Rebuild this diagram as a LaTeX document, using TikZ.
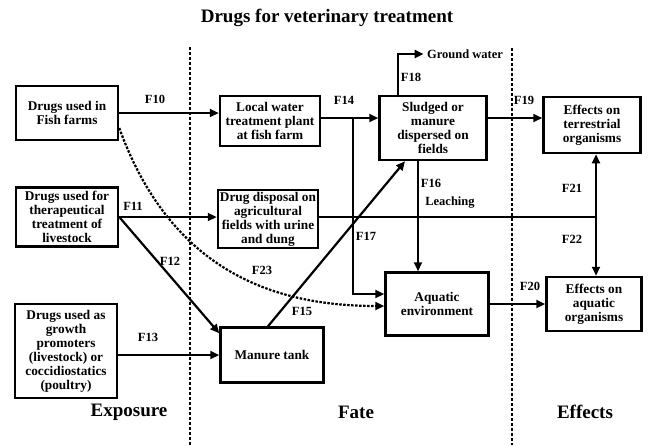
\documentclass[tikz,border=0pt]{standalone}
\usepackage{fontspec}
\setmainfont{Liberation Serif}
\usetikzlibrary{arrows.meta,positioning}
\tikzstyle{box}=[draw,line width=2.5pt,align=center,inner sep=1pt,
  font=\bfseries\fontsize{13.3}{14}\selectfont]
\tikzstyle{flow}=[->, line width=2.2pt]
\tikzstyle{flab}=[font=\bfseries\fontsize{12.5}{14}\selectfont]
\tikzstyle{stage}=[font=\bfseries\fontsize{19}{21}\selectfont]
\tikzstyle{divider}=[line width=1.3pt, dash pattern=on 3pt off 2pt]
\tikzstyle{seep}=[->, line width=2.2pt, dash pattern=on 2.5pt off 1.5pt]

\begin{document}
\begin{tikzpicture}[x=1pt, y=-1pt, >={Triangle[length=9pt,width=8pt]}]
  \useasboundingbox (0,0) rectangle (654,445);
  \node[stage] (title) at (327,18) {Drugs for veterinary treatment};

  % exposure
  \node[box, minimum width=102pt, minimum height=54pt] (fish)   at (67,113) {Drugs used in\\Fish farms};
  \node[box, minimum width=102pt, minimum height=59pt] (thera)  at (67,217) {Drugs used for\\therapeutical\\treatment of\\livestock};
  \node[box, minimum width=102pt, minimum height=94pt] (growth) at (66,351) {Drugs used as\\growth\\promoters\\(livestock) or\\coccidiostatics\\(poultry)};

  % fate
  \node[box, minimum width=100pt, minimum height=50pt] (water)  at (270,121) {Local water\\treatment plant\\at fish farm};
  \node[box, minimum width=100pt, minimum height=58pt] (disp)   at (268,219) {Drug disposal on\\agricultural\\fields with urine\\and dung};
  \node[box, minimum width=103pt, minimum height=55pt] (manure) at (272,355) {Manure tank};
  \node[box, minimum width=107pt, minimum height=64pt] (sludge) at (433,128) {Sludged or\\manure\\dispersed on\\fields};
  \node[box, minimum width=103pt, minimum height=63pt] (aqenv)  at (437,304) {Aquatic\\environment};
  \node[flab] (gw) at (465,54) {Ground water};

  % effects
  \node[box, minimum width=97pt, minimum height=56pt]  (terr)   at (592,125) {Effects on\\terrestrial\\organisms};
  \node[box, minimum width=95pt, minimum height=54pt]  (aqeff)  at (594,304) {Effects on\\aquatic\\organisms};

  \node[stage] (expo) at (129,412) {Exposure};
  \node[stage] (fate) at (356,412) {Fate};
  \node[stage] (effe) at (585,412) {Effects};

  \draw[divider] (190,47) -- (190,445) (512,48) -- (512,445);

  \coordinate (j14) at (353,118);
  \coordinate (j21) at (596,217);
  \coordinate (s15) at ([xshift=-28pt]sludge.south);
  \coordinate (s16) at ([xshift=-15pt]sludge.south);
  \coordinate (s18) at ([xshift=-35pt]sludge.north);

  \draw[flow] (fish.east |- 0,113) -- (water.west |- 0,113);
  \draw[flow] (thera.east) -- (thera.east -| disp.west);
  \draw[flow] (thera.east) -- ([yshift=-7pt]manure.north west);
  \draw[flow] (growth.east |- manure) -- (manure);
  \draw[flow] (water.east |- j14) -- (sludge.west |- j14);
  \draw[flow] (j14) |- ([yshift=10pt]aqenv.west);
  \draw[flow] ([xshift=-4pt]manure.north) -- (s15);
  \draw[flow] (s16) -- (s16 |- aqenv.north);
  \draw[flow] (s18) |- (gw.west);
  \draw[flow] (sludge.east |- j14) -- (terr.west |- j14);
  \draw[flow] (aqenv) -- (aqeff);
  \draw[line width=2.2pt] (disp.east |- thera.east) -- (j21);
  \draw[flow] (j21) -- (j21 |- terr.south);
  \draw[flow] (j21) -- (j21 |- aqeff.north);
  \draw[seep] ([yshift=-15pt]fish.east) .. controls (170,268) and (270,306) .. ([yshift=-2pt]aqenv.west);

  \node[flab] (l10) at (155,99)  {F10};
  \node[flab] (l11) at (133,206) {F11};
  \node[flab] (l12) at (170,261) {F12};
  \node[flab] (l13) at (148,337) {F13};
  \node[flab] (l14) at (344,100) {F14};
  \node[flab] (l15) at (302,311) {F15};
  \node[flab] (l16) at (431,183) {F16};
  \node[flab] (lch) at (450,203) {Leaching};
  \node[flab] (l17) at (366,236) {F17};
  \node[flab] (l18) at (411,77)  {F18};
  \node[flab] (l19) at (524,100) {F19};
  \node[flab] (l20) at (530,286) {F20};
  \node[flab] (l21) at (572,188) {F21};
  \node[flab] (l22) at (572,239) {F22};
  \node[flab] (l23) at (262,270) {F23};
\end{tikzpicture}
\end{document}
